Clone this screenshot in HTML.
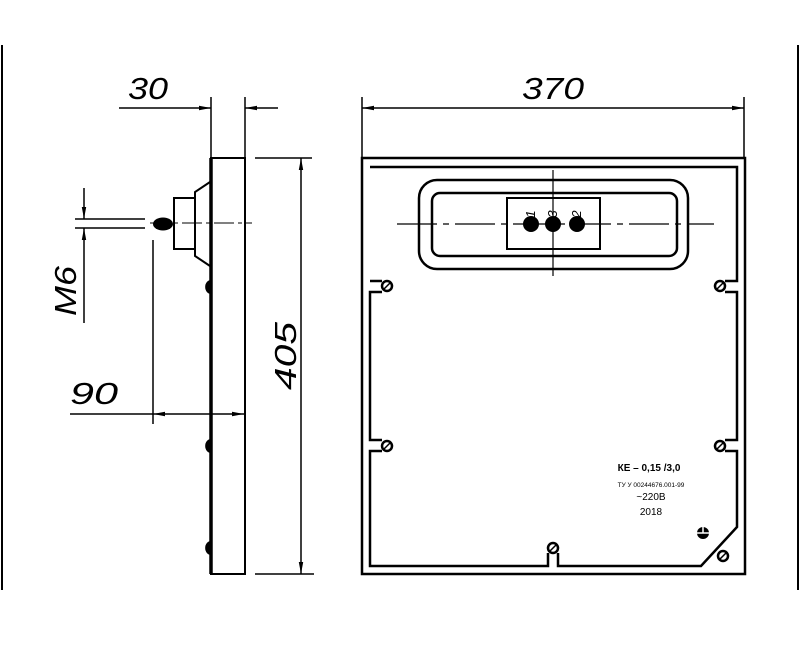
<!DOCTYPE html>
<html><head><style>html,body{margin:0;padding:0;background:#fff;}svg{display:block;}</style></head>
<body>
<svg width="800" height="656" viewBox="0 0 800 656" xmlns="http://www.w3.org/2000/svg" font-family="'Liberation Sans', sans-serif">
<defs>
<marker id="a" markerWidth="12" markerHeight="6" refX="12" refY="3" orient="auto" markerUnits="userSpaceOnUse"><path d="M0,0.8 L12,3 L0,5.2 Z" fill="#000"/></marker>
</defs>
<g stroke="#000" fill="none">
<line x1="2" y1="45" x2="2" y2="590" stroke-width="2"/>
<line x1="798" y1="45" x2="798" y2="590" stroke-width="2"/>

<line x1="211" y1="97" x2="211" y2="158" stroke-width="1.5"/>
<line x1="245" y1="97" x2="245" y2="158" stroke-width="1.5"/>
<line x1="119" y1="108" x2="211" y2="108" stroke-width="1.5" marker-end="url(#a)"/>
<line x1="278" y1="108" x2="245" y2="108" stroke-width="1.5" marker-end="url(#a)"/>
<rect x="211" y="158" width="34" height="416" stroke-width="2"/>
<line x1="211" y1="158" x2="211" y2="574" stroke-width="3.5"/>
<path d="M210,182 L195,192 L195,256 L210,266" stroke-width="2"/>
<rect x="174" y="198" width="21" height="51" stroke-width="2"/>
<ellipse cx="163" cy="224" rx="10" ry="6.5" fill="#000" stroke="none"/>
<line x1="150" y1="223" x2="252" y2="223" stroke-width="1" stroke-dasharray="20,4,4,4"/>
<path d="M211,280 a5,6 0 0 0 0,14 Z M211,439 a5,6 0 0 0 0,14 Z M211,541 a5,6 0 0 0 0,14 Z" fill="#000" stroke="none"/>

<line x1="255" y1="158" x2="312" y2="158" stroke-width="1.5"/>
<line x1="255" y1="574" x2="314" y2="574" stroke-width="1.5"/>
<line x1="301" y1="366" x2="301" y2="158" stroke-width="1.5" marker-end="url(#a)"/>
<line x1="301" y1="366" x2="301" y2="574" stroke-width="1.5" marker-end="url(#a)"/>

<line x1="75" y1="219" x2="145" y2="219" stroke-width="1.5"/>
<line x1="75" y1="228" x2="145" y2="228" stroke-width="1.5"/>
<line x1="84" y1="188" x2="84" y2="219" stroke-width="1.5" marker-end="url(#a)"/>
<line x1="84" y1="323" x2="84" y2="228" stroke-width="1.5" marker-end="url(#a)"/>

<line x1="153" y1="240" x2="153" y2="424" stroke-width="1.5"/>
<line x1="70" y1="414" x2="153" y2="414" stroke-width="1.5"/>
<line x1="200" y1="414" x2="153" y2="414" stroke-width="1.5" marker-end="url(#a)"/>
<line x1="200" y1="414" x2="244" y2="414" stroke-width="1.5" marker-end="url(#a)"/>

<line x1="362" y1="97" x2="362" y2="158" stroke-width="1.5"/>
<line x1="744" y1="97" x2="744" y2="158" stroke-width="1.5"/>
<line x1="553" y1="108" x2="362" y2="108" stroke-width="1.5" marker-end="url(#a)"/>
<line x1="553" y1="108" x2="744" y2="108" stroke-width="1.5" marker-end="url(#a)"/>

<rect x="362" y="158" width="383" height="416" stroke-width="2.5"/>
<path d="M370,167 L737,167 L737,281 L725,281 M725,292 L737,292 L737,440 L725,440 M725,451 L737,451 L737,527 L701,566 L558,566 L558,553 M548,553 L548,566 L370,566 L370,451 L382,451 M382,440 L370,440 L370,292 L382,292 M382,281 L370,281 Z" stroke-width="2.5"/>
<rect x="419" y="180" width="269" height="89" rx="18" stroke-width="2.5"/>
<rect x="432" y="193" width="245" height="63" rx="8" stroke-width="2.5"/>
<rect x="507" y="198" width="93" height="51" stroke-width="2"/>
<line x1="397" y1="224" x2="714" y2="224" stroke-width="1.2" stroke-dasharray="40,6,6,6"/>
<line x1="553" y1="170" x2="553" y2="276" stroke-width="1.2"/>
<circle cx="531" cy="224" r="7.5" fill="#000"/>
<circle cx="553" cy="224" r="7.5" fill="#000"/>
<circle cx="577" cy="224" r="7.5" fill="#000"/>
<g stroke-width="2.5">
<circle cx="387" cy="286" r="5"/><line x1="384" y1="289" x2="390" y2="283" stroke-width="1.5"/>
<circle cx="720" cy="286" r="5"/><line x1="717" y1="289" x2="723" y2="283" stroke-width="1.5"/>
<circle cx="387" cy="446" r="5"/><line x1="384" y1="449" x2="390" y2="443" stroke-width="1.5"/>
<circle cx="720" cy="446" r="5"/><line x1="717" y1="449" x2="723" y2="443" stroke-width="1.5"/>
<circle cx="553" cy="548" r="5"/><line x1="550" y1="551" x2="556" y2="545" stroke-width="1.5"/>
<circle cx="723" cy="556" r="5"/><line x1="720" y1="559" x2="726" y2="553" stroke-width="1.5"/>
</g>
<circle cx="703" cy="533" r="6" fill="#000" stroke="none"/>
<line x1="697" y1="533" x2="709" y2="533" stroke="#fff" stroke-width="1.5"/>
<line x1="703" y1="527" x2="703" y2="533" stroke="#fff" stroke-width="1.5"/>
</g>
<g fill="#000" font-style="italic" font-size="31">
<text x="128" y="99" textLength="40" lengthAdjust="spacingAndGlyphs">30</text>
<text x="522" y="99" textLength="62" lengthAdjust="spacingAndGlyphs">370</text>
<text x="70" y="404" textLength="48" lengthAdjust="spacingAndGlyphs">90</text>
<text transform="translate(296,390) rotate(-90)" textLength="68" lengthAdjust="spacingAndGlyphs">405</text>
<text transform="translate(76,316) rotate(-90)" textLength="50" lengthAdjust="spacingAndGlyphs">M6</text>
</g>
<g fill="#000" font-size="13" font-style="italic">
<text transform="translate(535,214) rotate(-90)" text-anchor="middle">1</text>
<text transform="translate(557,214) rotate(-90)" text-anchor="middle">3</text>
<text transform="translate(581,214) rotate(-90)" text-anchor="middle">2</text>
</g>
<g fill="#000" text-anchor="middle">
<text x="649" y="471" font-size="10" font-weight="bold">КЕ – 0,15 /3,0</text>
<text x="651" y="487" font-size="6.5">ТУ У 00244676.001-99</text>
<text x="651" y="500" font-size="10">~220В</text>
<text x="651" y="515" font-size="10">2018</text>
</g>
</svg>
</body></html>
